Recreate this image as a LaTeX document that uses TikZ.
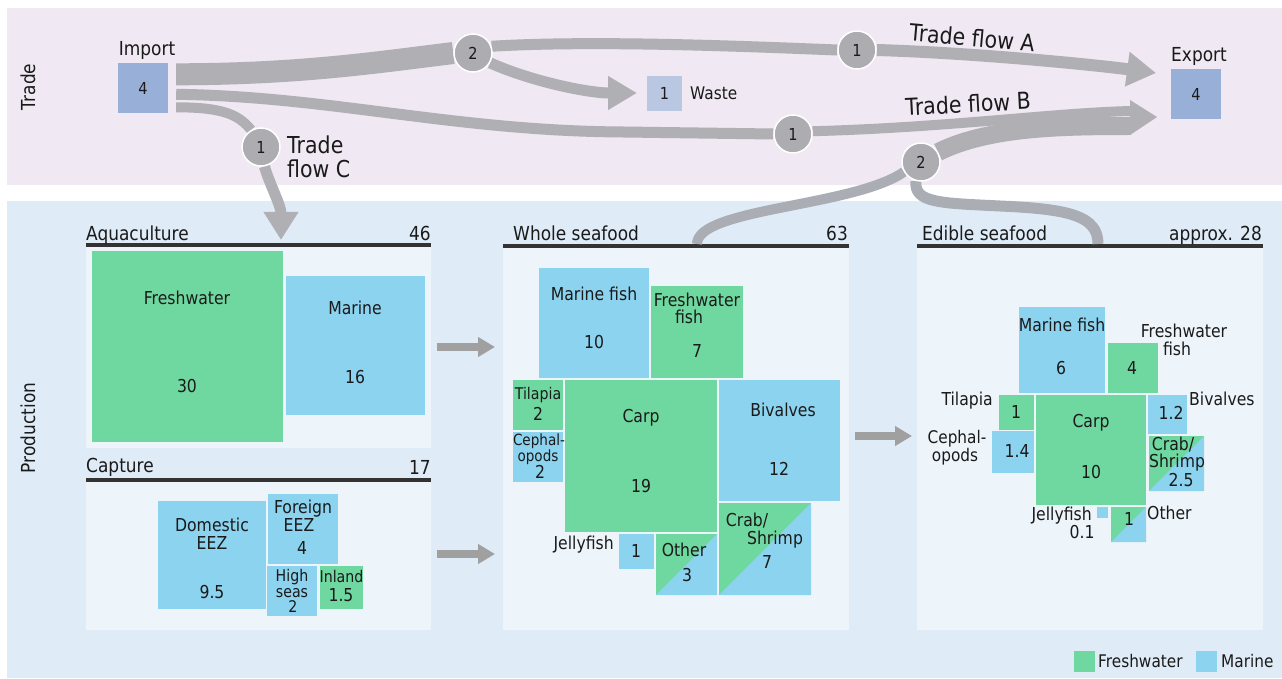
\documentclass[tikz,border=0pt]{standalone}
\usepackage{fontspec}
\setmainfont{DejaVu Sans}[FakeStretch=0.88]
\usetikzlibrary{arrows.meta,calc}
\definecolor{fw}{HTML}{6FD8A0}
\definecolor{mr}{HTML}{8CD3F0}
\definecolor{tradebg}{HTML}{F0E8F3}
\definecolor{prodbg}{HTML}{DFECF8}
\definecolor{panelbg}{HTML}{EEF5FA}
\definecolor{flow}{HTML}{B0AFB4}
\definecolor{flowp}{HTML}{AAADB3}
\definecolor{circ}{HTML}{ADACB1}
\definecolor{impbox}{HTML}{98B0D8}
\definecolor{wastebox}{HTML}{BAC7E3}
\definecolor{parrow}{HTML}{A0A0A0}
\definecolor{txt}{HTML}{1A1A1A}
\definecolor{rulec}{HTML}{333333}
\tikzset{
  tile/.style={rectangle,inner sep=0pt,outer sep=0pt,draw=none},
  t17/.style={font=\fontsize{19.3}{19}\selectfont,inner sep=0pt,text height=14.1pt,text depth=0pt},
  t16/.style={font=\fontsize{17.8}{18}\selectfont,inner sep=0pt,text height=13pt,text depth=0pt},
  t15/.style={font=\fontsize{17.4}{17}\selectfont,inner sep=0pt,text height=12.7pt,text depth=0pt},
  t14/.style={font=\fontsize{16.1}{16}\selectfont,inner sep=0pt,text height=11.7pt,text depth=0pt},
  t13/.style={font=\fontsize{15.4}{15}\selectfont,inner sep=0pt,text height=11.2pt,text depth=0pt},
  t20/.style={font=\fontsize{23.3}{23}\selectfont,inner sep=0pt,text height=17pt,text depth=0pt},
  circn/.style={circle,fill=circ,draw=white,line width=1.5pt,minimum size=38pt,inner sep=0pt,font=\fontsize{16.5}{16}\selectfont},
  boxn/.style={rectangle,inner sep=0pt,font=\fontsize{16.5}{16}\selectfont},
  flw/.style={draw=flow,line width=#1},
  flwp/.style={draw=flowp,line width=#1},
  parw/.style={draw=parrow,line width=8pt,-{Triangle[length=17pt,width=19pt]}},
  titlerule/.style={draw=rulec,line width=4pt}
}
\newcommand\tile[6]{\node[tile,fill=#6,minimum width={(#4)-(#2)},minimum height={(#5)-(#3)}] (#1) at ({((#2)+(#4))/2},{((#3)+(#5))/2}) {};}
\newcommand\dtile[5]{\node[tile,fill=fw,minimum width={(#4)-(#2)},minimum height={(#5)-(#3)},path picture={\fill[mr] (path picture bounding box.north east) -- (path picture bounding box.south east) -- (path picture bounding box.south west) -- cycle;}] (#1) at ({((#2)+(#4))/2},{((#3)+(#5))/2}) {};}
\newcommand\tx[5][]{\node[#1] (#2) at (#3,#4) {#5};}
\begin{document}
\begin{tikzpicture}[x=1pt,y=-1pt,every node/.append style={text=txt}]
\useasboundingbox (0,0) rectangle (1282,679);
% backgrounds
\fill[tradebg] (7,8) rectangle (1282,185);
\fill[prodbg] (7,201) rectangle (1282,678);
\fill[panelbg] (86,247) rectangle (431,448);
\fill[panelbg] (86,482) rectangle (431,630);
\fill[panelbg] (503,248) rectangle (849,630);
\fill[panelbg] (917,248) rectangle (1263,630);
\draw[titlerule] (86,245) -- (431,245);
\draw[titlerule] (86,480) -- (431,480);
\draw[titlerule] (503,246) -- (849,246);
\draw[titlerule] (917,246) -- (1263,246);
% trade boxes
\node[boxn,fill=impbox,minimum size=50pt] (imp) at (143,88) {4};
\node[boxn,fill=impbox,minimum size=50pt] (exp) at (1196,94) {4};
\node[boxn,fill=wastebox,minimum size=35pt] (wst) at (664.5,93.5) {1};
% circles (positions)
\coordinate (c2aP) at (473,53);
\coordinate (c1aP) at (857,50);
\coordinate (c1bP) at (793,134);
\coordinate (c1cP) at (261,147);
\coordinate (c2bP) at (921,162);
\node[circn,draw=none,fill=none] (c2a) at (c2aP) {};
\node[circn,draw=none,fill=none] (c1a) at (c1aP) {};
\node[circn,draw=none,fill=none] (c1b) at (c1bP) {};
\node[circn,draw=none,fill=none] (c1c) at (c1cP) {};
\node[circn,draw=none,fill=none] (c2b) at (c2bP) {};
% free ends
\coordinate (tipA) at (1156,73);
\coordinate (tipW) at (637,93);
\coordinate (tipC) at (281,240);
\coordinate (endB) at (1131,111);
\coordinate (end2b) at (1131,126);
\coordinate (tipB) at (1157,117);
\coordinate (wsTop) at (697,244);
\coordinate (esTop) at (1098,244);
\coordinate (midE) at (1000,206);
% flows
\draw[flw=22pt] ($(imp.north east)+(8,11.5)$) .. controls +(124,0) and +(-74,9) .. (c2a.west);
\draw[flw=11pt] ($(imp.north east)+(8,31.5)$) .. controls +(154,2) and +(-170,-1) .. ($(c1b.west)+(-150,-2)$) -- (c1b.west);
\draw[flw=10pt] ($(imp.north east)+(8,44.5)$) .. controls +(50,0) and +(-12,-14) .. (c1c.120);
\draw[flw=11pt,-{Triangle[length=28pt,width=33pt]}] (c1c.-80) .. controls +(6,20) and +(0,-35) .. (tipC);
\draw[flw=11pt] (c2a.20) .. controls +(100,-6) and +(-100,-4) .. (c1a.west);
\draw[flw=12pt,-{Triangle[length=29pt,width=33pt]}] (c1a.east) .. controls +(100,3) and +(-60,-8) .. (tipA);
\draw[flw=11pt,-{Triangle[length=29pt,width=32pt]}] (c2a.-30) .. controls +(40,18) and +(-50,0) .. (tipW);
\draw[flw=10pt] (c1b.8) .. controls +(140,-4) and +(-80,2) .. (endB);
\draw[flw=18pt] (c2b.30) .. controls +(50,-25) and +(-70,0) .. (end2b);
\fill[flow] (1130,100) -- (tipB) -- (1130,135) -- cycle;
\draw[flwp=10pt] (wsTop) .. controls +(0,-36) and +(-50,35) .. (c2b.-150);
\draw[flwp=11pt] (c2b.-105) .. controls +(-2,22) and +(-60,-3) .. (midE) .. controls +(70,3) and +(0,-28) .. (esTop);
% circles drawn
\node[circn] (n2a) at (c2aP) {2};
\node[circn] (n1a) at (c1aP) {1};
\node[circn] (n1b) at (c1bP) {1};
\node[circn] (n1c) at (c1cP) {1};
\node[circn] (n2b) at (c2bP) {2};
% trade labels
\tx[t17,rotate=90]{ltrade}{28}{87}{Trade}
\tx[t17]{limp}{147}{48}{Import}
\tx[t17]{lexp}{1199}{54}{Export}
\tx[t15,anchor=west]{lwaste}{690}{93}{Waste}
\tx[t20,rotate=-5]{lfa}{972}{38}{Trade flow A}
\tx[t20,rotate=3]{lfb}{968}{104}{Trade flow B}
\tx[t20,anchor=west]{lfc1}{287}{145}{Trade}
\tx[t20,anchor=west]{lfc2}{287}{169}{flow C}
% production labels
\tx[t17,rotate=90]{lprod}{28}{428}{Production}
\tx[t17,anchor=west]{laq}{86}{233}{Aquaculture}
\tx[t17,anchor=east]{laqn}{431}{233}{46}
\tx[t17,anchor=west]{lcap}{86}{465}{Capture}
\tx[t17,anchor=east]{lcapn}{431}{467}{17}
\tx[t17,anchor=west]{lws}{513}{233}{Whole seafood}
\tx[t17,anchor=east]{lwsn}{848}{233}{63}
\tx[t17,anchor=west]{les}{922}{233}{Edible seafood}
\tx[t17,anchor=east]{lesn}{1262}{233}{approx. 28}
% panel arrows
\coordinate (pa1s) at (437,347); \coordinate (pa1e) at (495,347);
\coordinate (pa2s) at (437,554); \coordinate (pa2e) at (495,554);
\coordinate (pa3s) at (855,436); \coordinate (pa3e) at (912,436);
\draw[parw] (pa1s) -- (pa1e);
\draw[parw] (pa2s) -- (pa2e);
\draw[parw] (pa3s) -- (pa3e);
% aquaculture tiles
\tile{aqfw}{92}{251}{283}{442}{fw}
\tile{aqmr}{286}{276}{425}{415}{mr}
\tx[t16]{aqfwa}{187}{298}{Freshwater}
\tx[t16]{aqfwb}{187}{386}{30}
\tx[t16]{aqmra}{355}{308}{Marine}
\tx[t16]{aqmrb}{355}{377}{16}
% capture tiles
\tile{cdom}{158}{501}{266}{609}{mr}
\tile{cfor}{268}{494}{338}{564}{mr}
\tile{chigh}{267}{566}{317}{616}{mr}
\tile{cinl}{320}{566}{363}{609}{fw}
\tx[t16]{cdoma}{212}{525}{Domestic}
\tx[t16]{cdomb}{212}{543}{EEZ}
\tx[t16]{cdomc}{212}{592}{9.5}
\tx[t16]{cfora}{303}{507}{Foreign}
\tx[t16]{cforb}{299}{525}{EEZ}
\tx[t16]{cforc}{302}{548}{4}
\tx[t14]{chia}{292}{576}{High}
\tx[t14]{chib}{292}{592}{seas}
\tx[t14]{chic}{293}{607}{2}
\tx[t14]{cinla}{341.5}{577}{Inland}
\tx[t16]{cinlb}{341}{595}{1.5}
% whole seafood tiles
\tile{wmf}{539}{268}{649}{378}{mr}
\tile{wff}{651}{286}{743}{378}{fw}
\tile{wtil}{513}{380}{563}{430}{fw}
\tile{wcep}{513}{432}{563}{482}{mr}
\tile{wcarp}{565}{380}{717}{532}{fw}
\tile{wbiv}{719}{380}{840}{501}{mr}
\dtile{wcrab}{719}{503}{811}{595}
\tile{wjel}{619}{534}{654}{569}{mr}
\dtile{woth}{656}{534}{717}{595}
\tx[t16]{wmfa}{594}{294}{Marine fish}
\tx[t16]{wmfb}{594}{342}{10}
\tx[t16]{wffa}{697}{300}{Freshwater}
\tx[t16]{wffb}{689}{317}{fish}
\tx[t16]{wffc}{697}{351}{7}
\tx[t14]{wtila}{538}{394}{Tilapia}
\tx[t16]{wtilb}{538}{414}{2}
\tx[t13]{wcepa}{539}{440}{Cephal-}
\tx[t13]{wcepb}{538}{456}{opods}
\tx[t16]{wcepc}{540}{472}{2}
\tx[t16]{wcarpa}{641}{416}{Carp}
\tx[t16]{wcarpb}{641}{486}{19}
\tx[t16]{wbiva}{783}{410}{Bivalves}
\tx[t16]{wbivb}{779}{469}{12}
\tx[t16]{wcraba}{747}{520}{Crab/}
\tx[t16]{wcrabb}{775}{538}{Shrimp}
\tx[t16]{wcrabc}{767}{562}{7}
\tx[t16,anchor=east]{wjela}{614}{543}{Jellyfish}
\tx[t16]{wjelb}{636}{551}{1}
\tx[t16]{wotha}{684}{550}{Other}
\tx[t16]{wothb}{687}{575}{3}
% edible seafood tiles
\tile{emf}{1019}{307}{1105}{393}{mr}
\tile{eff}{1108}{343}{1158}{393}{fw}
\tile{etil}{999}{395}{1034}{430}{fw}
\tile{ecep}{992}{431}{1034}{473}{mr}
\tile{ecarp}{1036}{395}{1146}{505}{fw}
\tile{ebiv}{1148}{395}{1187}{434}{mr}
\dtile{ecrab}{1149}{436}{1204}{491}
\tile{ejel}{1097}{507}{1108}{518}{mr}
\dtile{eoth}{1111}{507}{1146}{542}
\tx[t16]{emfa}{1062}{325}{Marine fish}
\tx[t16]{emfb}{1061}{368}{6}
\tx[t16]{effb}{1132}{368}{4}
\tx[t16]{effa1}{1184}{331}{Freshwater}
\tx[t16]{effa2}{1177}{349}{fish}
\tx[t16,anchor=east]{etila}{993}{399}{Tilapia}
\tx[t16]{etilb}{1016}{412}{1}
\tx[t15]{ecepa}{957}{437}{Cephal-}
\tx[t15]{ecepb}{955}{455}{opods}
\tx[t16]{ecepc}{1017}{451}{1.4}
\tx[t16]{ecarpa}{1091}{421}{Carp}
\tx[t16]{ecarpb}{1091}{472}{10}
\tx[t16]{ebivb}{1171}{413}{1.2}
\tx[t16,anchor=west]{ebiva}{1189}{399}{Bivalves}
\tx[t16]{ecraba}{1173}{444}{Crab/}
\tx[t16]{ecrabb}{1177}{461}{Shrimp}
\tx[t16]{ecrabc}{1181}{480}{2.5}
\tx[t16,anchor=east]{ejela}{1092}{514}{Jellyfish}
\tx[t16]{ejelb}{1082}{532}{0.1}
\tx[t16]{eothb}{1129}{519}{1}
\tx[t16,anchor=west]{eotha}{1147}{513}{Other}
% legend
\tile{lgf}{1074}{651}{1095}{672}{fw}
\tile{lgm}{1196}{651}{1217}{672}{mr}
\tx[t15,anchor=west]{lgft}{1098}{661}{Freshwater}
\tx[t15,anchor=west]{lgmt}{1221}{661}{Marine}
\end{tikzpicture}
\end{document}
